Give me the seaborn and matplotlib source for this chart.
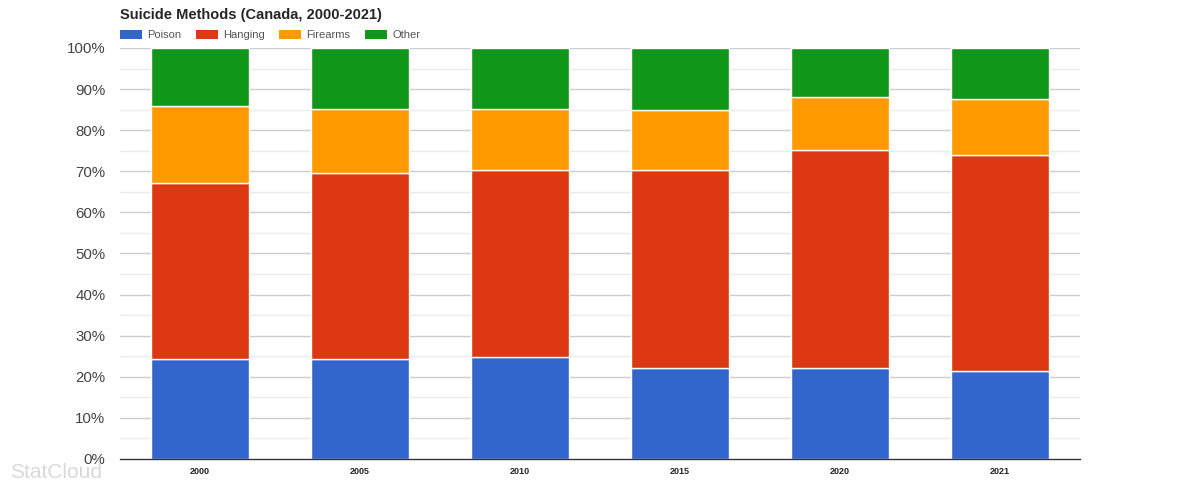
import numpy as np
import pandas as pd
import matplotlib
matplotlib.use("Agg")
import matplotlib.pyplot as plt
import seaborn as sns

# ---- data (percent of suicides by method) ----
years = ["2000", "2005", "2010", "2015", "2020", "2021"]
poison = [24.3, 24.3, 24.8, 22.1, 22.1, 21.3]
hanging = [42.9, 45.2, 45.5, 48.2, 53.1, 52.7]
firearms = [18.7, 15.6, 14.9, 14.6, 12.9, 13.6]
other = [14.1, 14.9, 14.8, 15.1, 11.9, 12.4]

series = ["Poison", "Hanging", "Firearms", "Other"]
colors = ["#3366cc", "#dc3912", "#ff9900", "#109618"]

df = pd.DataFrame({"year": years, "Poison": poison, "Hanging": hanging,
                   "Firearms": firearms, "Other": other})

sns.set_style("white")
plt.rcParams['font.family'] = ['Liberation Sans', 'DejaVu Sans']

fig = plt.figure(figsize=(11.99, 4.84), dpi=100)
ax = fig.add_axes([120 / 1199, 25 / 484, 960 / 1199, 411 / 484])

# gridlines: major every 10%, minor every 5%
for v in np.arange(5, 100, 10):
    ax.axhline(v, color="#ebebeb", lw=1, zorder=0)
for v in np.arange(10, 101, 10):
    ax.axhline(v, color="#cccccc", lw=1, zorder=0)

bottom = np.zeros(len(years))
for name, col in zip(series, colors):
    sns.barplot(data=df, x="year", y=name, bottom=bottom, color=col,
                width=0.61, edgecolor="white", linewidth=1, ax=ax,
                label=name, zorder=2, saturation=1)
    bottom = bottom + df[name].values

handles, labels = ax.get_legend_handles_labels()
if ax.get_legend() is not None:
    ax.get_legend().remove()

ax.set_ylim(0, 100)
ax.set_xlim(-0.5, len(years) - 0.5)
ax.set_yticks(np.arange(0, 101, 10))
ax.set_yticklabels([f"{v}%" for v in range(0, 101, 10)], fontsize=10.8, color="#444444")
ax.tick_params(axis="y", length=0, pad=10.5)
ax.tick_params(axis="x", length=0, pad=6)
for lab in ax.get_xticklabels():
    lab.set_fontsize(6.5)
    lab.set_fontweight("bold")
    lab.set_color("#222222")
ax.set_xlabel("")
ax.set_ylabel("")
for s in ["top", "right", "left"]:
    ax.spines[s].set_visible(False)
ax.spines["bottom"].set_color("#333333")
ax.spines["bottom"].set_linewidth(1)

fig.text(120 / 1199, 1 - 15 / 484, "Suicide Methods (Canada, 2000-2021)",
         fontsize=10.5, fontweight="bold", va="center", ha="left")

leg = fig.legend(handles, labels, loc="center left", ncol=4, frameon=False,
                 bbox_to_anchor=(120 / 1199, 1 - 35 / 484), fontsize=8,
                 handlelength=2.0, handleheight=0.9, handletextpad=0.45,
                 columnspacing=1.3, labelcolor="#555555",
                 borderpad=0, borderaxespad=0)
for h in leg.legend_handles:
    h.set_edgecolor("none")

fig.text(10 / 1199, 12 / 484, "StatCloud", fontsize=15, color="#d9d9d9",
         va="center", ha="left")

fig.savefig("out.png", dpi=100)
